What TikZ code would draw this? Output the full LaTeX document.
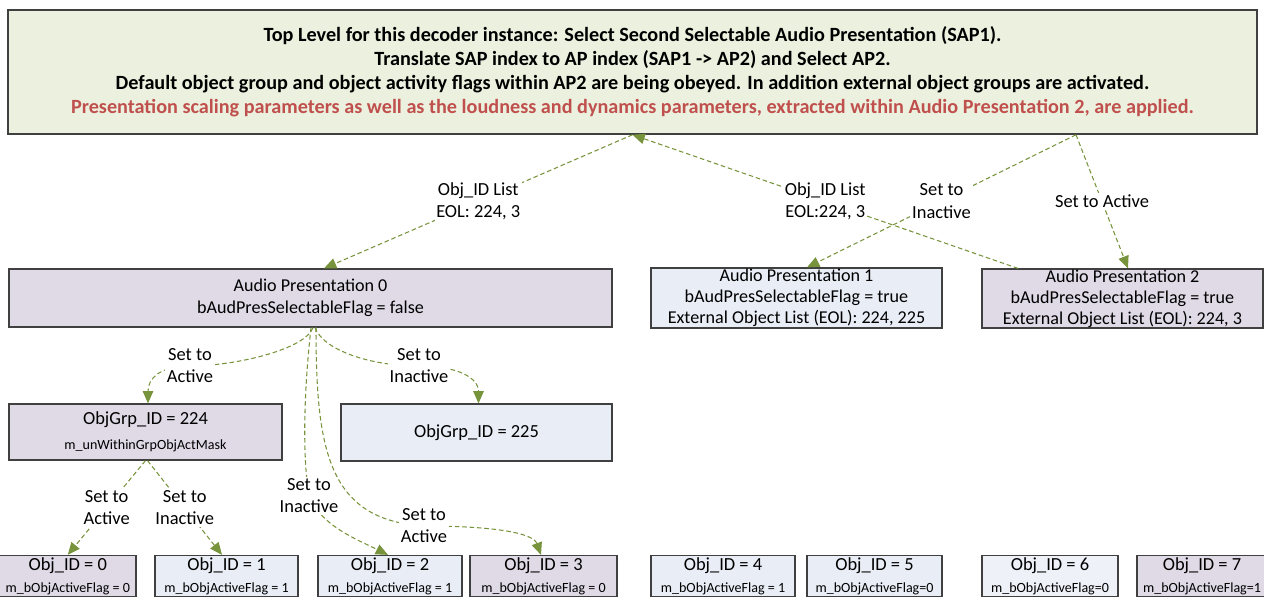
\documentclass[tikz,border=0pt]{standalone}
\usepackage{fontspec}
\setmainfont{Carlito}
\usetikzlibrary{arrows.meta,calc}
\definecolor{topfill}{HTML}{EBF1DE}
\definecolor{lavfill}{HTML}{E0DAE7}
\definecolor{bluefill}{HTML}{E9EEF6}
\definecolor{bluelight}{HTML}{EEF2F8}
\definecolor{boxline}{HTML}{404040}
\definecolor{redtxt}{HTML}{C0504D}
\definecolor{arrgreen}{HTML}{77933C}

\tikzset{
  box/.style={draw=boxline, line width=0.7pt, inner sep=0pt, align=center, text=black,
    font=\fontsize{10.3}{11.9}\selectfont},
  lav/.style={box, fill=lavfill},
  blu/.style={box, fill=bluefill},
  objbox/.style={box, minimum height=0.82cm},
  flow/.style={draw=arrgreen, line width=0.6pt, dash pattern=on 2.6pt off 1.6pt,
    -{Triangle[length=7pt,width=6pt]}},
  lbl/.style={fill=white, inner sep=1pt, align=center, font=\fontsize{10.5}{12.6}\selectfont},
}
\newcommand\objtext[2]{{\fontsize{10.5}{12}\selectfont Obj\_ID = #1}\\[0.5pt]{\fontsize{8}{9}\selectfont #2}}

\begin{document}
\begin{tikzpicture}[x=0.02cm,y=-0.02cm]
\useasboundingbox (0,0) rectangle (1264,597);

% top level description
\node[box, fill=topfill, line width=0.9pt, minimum width=24.98cm, minimum height=2.48cm,
  font=\fontsize{11.5}{13.6}\selectfont\bfseries] (top) at (632.5,72)
  {Top Level for this decoder instance: Select Second Selectable Audio Presentation (SAP1).\\
   Translate SAP index to AP index (SAP1 -> AP2) and Select AP2.\\
   Default object group and object activity flags within AP2 are being obeyed. In addition external object groups are activated.\\
   \textcolor{redtxt}{Presentation scaling parameters as well as the loudness and dynamics parameters, extracted within Audio Presentation 2, are applied.}};

% audio presentations
\node[lav, minimum width=12.06cm, minimum height=1.16cm, font=\fontsize{10.3}{12.5}\selectfont] (ap0) at (310.5,298)
  {Audio Presentation 0\\bAudPresSelectableFlag = false};
\node[blu, minimum width=5.82cm, minimum height=1.2cm] (ap1) at (796.5,298)
  {Audio Presentation 1\\bAudPresSelectableFlag = true\\External Object List (EOL): 224, 225};
\node[lav, minimum width=5.62cm, minimum height=1.18cm] (ap2) at (1122.5,298.5)
  {Audio Presentation 2\\bAudPresSelectableFlag = true\\External Object List (EOL): 224, 3};

% object groups
\node[lav, minimum width=5.46cm, minimum height=1.12cm] (grpA) at (145.5,432)
  {{\fontsize{10.5}{12}\selectfont ObjGrp\_ID = 224}\\[2pt]{\fontsize{8}{9}\selectfont m\_unWithinGrpObjActMask}};
\node[blu, minimum width=5.42cm, minimum height=1.14cm, font=\fontsize{10.5}{12}\selectfont] (grpB) at (476.5,432.5)
  {ObjGrp\_ID = 225};

% objects
\node[objbox, fill=lavfill, minimum width=2.73cm] (ob0) at (67.75,576) {\objtext{0}{m\_bObjActiveFlag = 0}};
\node[objbox, fill=bluefill, minimum width=2.86cm] (ob1) at (226.5,576) {\objtext{1}{m\_bObjActiveFlag = 1}};
\node[objbox, fill=bluefill, minimum width=2.88cm] (ob2) at (390,576) {\objtext{2}{m\_bObjActiveFlag = 1}};
\node[objbox, fill=lavfill, minimum width=2.94cm] (ob3) at (543.5,576) {\objtext{3}{m\_bObjActiveFlag = 0}};
\node[objbox, fill=bluefill, minimum width=2.88cm] (ob4) at (723,576) {\objtext{4}{m\_bObjActiveFlag = 1}};
\node[objbox, fill=bluefill, minimum width=2.70cm] (ob5) at (874.5,576) {\objtext{5}{m\_bObjActiveFlag=0}};
\node[objbox, fill=bluelight, minimum width=2.72cm] (ob6) at (1050,576) {\objtext{6}{m\_bObjActiveFlag=0}};
\node[objbox, fill=lavfill, minimum width=2.60cm] (ob7) at (1202,576) {\objtext{7}{m\_bObjActiveFlag=1}};

% connectors from and to the top level
\draw[flow] (top.south) -- node[lbl] {Obj\_ID List\\EOL: 224, 3} ($(ap0.north)+(13.5,0)$);
\draw[flow] ($(ap2.north)+(-104.5,0)$) -- node[lbl] {Obj\_ID List\\EOL:224, 3} (top.south);
\draw[flow] ($(top.south)+(443.5,0)$) -- node[lbl] {Set to\\Inactive} ($(ap1.north)+(10.5,0)$);
\draw[flow] ($(top.south)+(443.5,0)$) -- node[lbl] {Set to Active} ($(ap2.north)+(5.5,0)$);

% connectors below audio presentation 0
\draw[flow] ($(ap0.south)+(2.5,0)$) .. controls +(-8,22) and +(45,0) .. (190,366)
  node[lbl] {Set to\\Active} .. controls +(-30,0) and +(0,-25) .. ($(grpA.north)+(2.5,0)$);
\draw[flow] ($(ap0.south)+(4.5,0)$) .. controls +(8,22) and +(-50,0) .. (419,366)
  node[lbl] {Set to\\Inactive} .. controls +(40,0) and +(0,-25) .. ($(grpB.north)+(2,0)$);
\draw[flow] ($(ap0.south)+(0.5,0)$) .. controls (303,400) and (303,460) .. (309,496)
  node[lbl] {Set to\\Inactive} .. controls +(12,30) and +(-30,-15) .. ($(ob2.north)+(-2,0)$);
\draw[flow] ($(ap0.south)+(5.5,0)$) .. controls (316,450) and (328,520) .. (424,526)
  node[lbl] {Set to\\Active} .. controls +(70,0) and +(-8,-22) .. ($(ob3.north)+(-2.5,0)$);

% connectors below object group 224
\draw[flow] (grpA.south) -- node[lbl] {Set to\\Active} (ob0.north);
\draw[flow] ($(grpA.south)+(2,0)$) -- node[lbl] {Set to\\Inactive} ($(ob1.north)+(-4.5,0)$);
\end{tikzpicture}
\end{document}
